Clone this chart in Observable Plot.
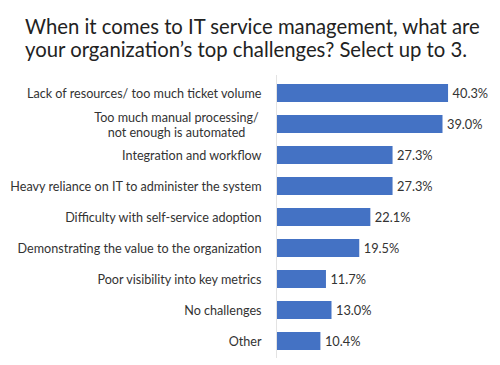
<!DOCTYPE html>
<html>
<head>
<meta charset="utf-8">
<script src="https://cdn.jsdelivr.net/npm/d3@7"></script>
<script src="https://cdn.jsdelivr.net/npm/@observablehq/plot@0.6"></script>
<style>
  body { margin: 0; background: #fff; font-family: Lato, "Open Sans", sans-serif; }
  #title { box-sizing: border-box; height: 60px; padding: 15px 0 0 25px; font-size: 20.3px; line-height: 23px; color: #222; white-space: nowrap; }
  #chart svg { display: block; }
</style>
</head>
<body>
<div id="title">When it comes to IT service management, what are<br>your organization’s top challenges? Select up to 3.</div>
<div id="chart"></div>
<script>
const categories = [
  "Lack of resources/ too much ticket volume",
  "Too much manual processing/\nnot enough is automated",
  "Integration and workflow",
  "Heavy reliance on IT to administer the system",
  "Difficulty with self-service adoption",
  "Demonstrating the value to the organization",
  "Poor visibility into key metrics",
  "No challenges",
  "Other"
];
const values = [40.3, 39.0, 27.3, 27.3, 22.1, 19.5, 11.7, 13.0, 10.4];

const data = categories.map((c, i) => ({category: c, value: values[i]}));
const single = data.filter(d => !d.category.includes("\n"));
const multi = data.filter(d => d.category.includes("\n"));

const chart = Plot.plot({
  width: 500,
  height: 303,
  marginTop: 15,
  marginBottom: 5,
  marginLeft: 276,
  marginRight: 2,
  style: {fontFamily: "Lato, 'Open Sans', sans-serif"},
  x: {domain: [0, 52], axis: null},
  y: {domain: categories, axis: null, paddingInner: 0.43, paddingOuter: 0.215},
  marks: [
    Plot.barX(data, {x: "value", y: "category", fill: "#4472c4"}),
    Plot.ruleX([0], {stroke: "#e3e3e3", strokeWidth: 1}),
    Plot.text(single, {x: 0, y: "category", text: "category", textAnchor: "end", dx: -15, fontSize: 12.6, fill: "#333"}),
    Plot.text(multi, {x: 0, y: "category", text: "category", textAnchor: "middle", dx: -100, lineHeight: 1.2, fontSize: 12.6, fill: "#333"}),
    Plot.text(data, {x: "value", y: "category", text: d => d.value.toFixed(1) + "%", textAnchor: "start", dx: 4, fontSize: 12.8, fill: "#333"})
  ]
});
document.getElementById("chart").appendChild(chart);
</script>
</body>
</html>
